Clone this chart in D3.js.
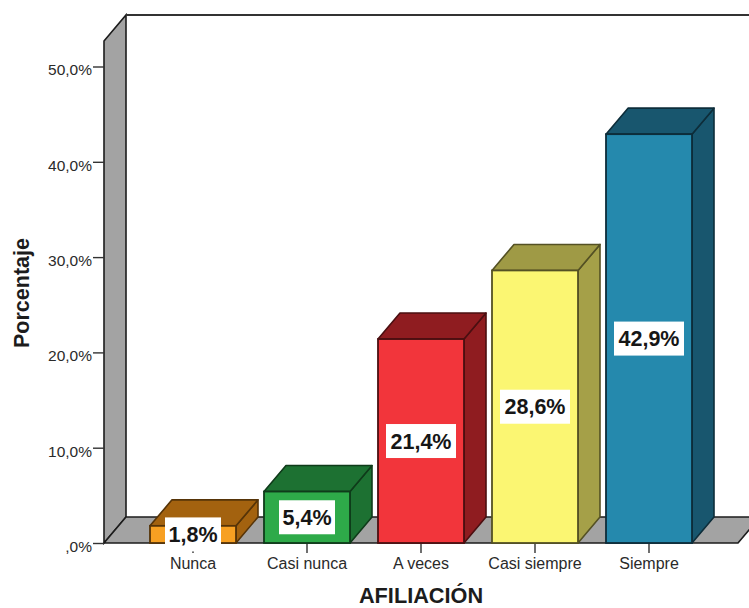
<!DOCTYPE html>
<html>
<head>
<meta charset="utf-8">
<script src="https://cdn.jsdelivr.net/npm/d3@7"></script>
<style>
html,body{margin:0;padding:0;background:#fff}
svg{display:block}
text{font-family:"Liberation Sans",Arial,sans-serif}
</style>
</head>
<body>
<div id="chart"></div>
<script>
// Survey response shares for the AFILIACIÓN item
const categories = ["Nunca", "Casi nunca", "A veces", "Casi siempre", "Siempre"];
const percentages = [1.8, 5.4, 21.4, 28.6, 42.9];
const faceColors = ["#f7a022", "#2eaa49", "#f2353b", "#fbf672", "#2589ad"];
const topColors = ["#a3620f", "#1d7132", "#8f1c20", "#9f9a45", "#18566e"];
const sideColors = ["#a3620f", "#1d7132", "#8f1c20", "#a5a048", "#18566e"];
const yTicks = [0, 10, 20, 30, 40, 50];
const valueLabels = ["1,8%", "5,4%", "21,4%", "28,6%", "42,9%"];

const width = 749, height = 608;
const depthX = 22, depthY = -26;
const floorY = 543, wallX = 104, floorEndX = 738, ceilingFront = 41;

const svg = d3.select("#chart").append("svg").attr("width", width).attr("height", height);

const x = d3.scaleBand().domain(categories).range([136, 706]).paddingInner(28 / 114).paddingOuter(14 / 114);
const y = d3.scaleLinear().domain([0, 50]).range([floorY, 66.5]);

const ink = "#1c1c1c";
const grey = "#a3a3a3";
const poly = (pts) => d3.line()(pts) + "Z";

// Side wall and floor of the 3D frame
svg.append("path")
  .attr("d", poly([[wallX, ceilingFront], [wallX + depthX, ceilingFront + depthY], [wallX + depthX, floorY + depthY], [wallX, floorY]]))
  .attr("fill", grey).attr("stroke", ink).attr("stroke-width", 1.6);
svg.append("path")
  .attr("d", poly([[wallX, floorY], [wallX + depthX, floorY + depthY], [floorEndX + depthX, floorY + depthY], [floorEndX, floorY]]))
  .attr("fill", grey).attr("stroke", ink).attr("stroke-width", 1.6);
svg.append("line")
  .attr("x1", wallX + depthX).attr("x2", width)
  .attr("y1", ceilingFront + depthY).attr("y2", ceilingFront + depthY)
  .attr("stroke", "#333").attr("stroke-width", 2);

// Axis ticks and labels
const yAxis = d3.axisLeft(y).tickValues(yTicks).tickSize(11).tickPadding(1)
  .tickFormat(d => d === 0 ? ",0%" : d + ",0%");
const yG = svg.append("g").attr("transform", `translate(${wallX},0)`).call(yAxis);
yG.select(".domain").remove();
yG.selectAll("line").attr("stroke", "#333").attr("stroke-width", 1.4);
yG.selectAll("text").attr("font-size", 15.5).attr("fill", "#2a2a2a").attr("y", 3.5)
  .style("font-family", '"Liberation Sans",Arial,sans-serif');

const xAxis = d3.axisBottom(x).tickSize(10).tickPadding(5);
const xG = svg.append("g").attr("transform", `translate(0,${floorY})`).call(xAxis);
xG.select(".domain").remove();
xG.selectAll("line").attr("stroke", "#333").attr("stroke-width", 1.4);
xG.selectAll("text").attr("font-size", 16).attr("fill", "#2a2a2a")
  .style("font-family", '"Liberation Sans",Arial,sans-serif');

// Extruded bars
const bars = svg.selectAll("g.bar").data(categories).join("g").attr("class", "bar");
const stroke = (i) => d3.color(topColors[i]).darker(1.8);
bars.each(function (c, i) {
  const g = d3.select(this);
  const x0 = x(c), x1 = x0 + x.bandwidth(), yTop = y(percentages[i]), yBase = y(0);
  g.append("path")
    .attr("d", poly([[x1, yTop], [x1 + depthX, yTop + depthY], [x1 + depthX, yBase + depthY], [x1, yBase]]))
    .attr("fill", sideColors[i]).attr("stroke", stroke(i)).attr("stroke-width", 1.6).attr("stroke-linejoin", "round");
  g.append("path")
    .attr("d", poly([[x0, yTop], [x0 + depthX, yTop + depthY], [x1 + depthX, yTop + depthY], [x1, yTop]]))
    .attr("fill", topColors[i]).attr("stroke", stroke(i)).attr("stroke-width", 1.6).attr("stroke-linejoin", "round");
  g.append("rect")
    .attr("x", x0).attr("y", yTop).attr("width", x.bandwidth()).attr("height", yBase - yTop)
    .attr("fill", faceColors[i]).attr("stroke", stroke(i)).attr("stroke-width", 1.8);
});

// Value labels on white plates, centred on each bar face
const labels = svg.selectAll("g.value").data(categories).join("g").attr("class", "value")
  .attr("transform", (c, i) => `translate(${x(c) + x.bandwidth() / 2},${(y(percentages[i]) + y(0)) / 2})`);
labels.append("rect")
  .attr("x", (c, i) => i < 2 ? -28 : -35).attr("width", (c, i) => i < 2 ? 56 : 70)
  .attr("y", -17).attr("height", 34).attr("fill", "#fff");
labels.append("text")
  .text((c, i) => valueLabels[i])
  .attr("text-anchor", "middle").attr("dy", "0.36em")
  .attr("font-size", 21.5).attr("font-weight", "bold").attr("fill", "#161616");

// Axis titles
svg.append("text").text("AFILIACIÓN")
  .attr("x", 421).attr("y", 603.3).attr("text-anchor", "middle")
  .attr("font-size", 21.7).attr("font-weight", "bold").attr("fill", "#1c1c1c");
svg.append("text").text("Porcentaje")
  .attr("transform", "translate(28.5,293) rotate(-90)").attr("text-anchor", "middle")
  .attr("font-size", 21.5).attr("font-weight", "bold").attr("fill", "#1c1c1c");
</script>
</body>
</html>
